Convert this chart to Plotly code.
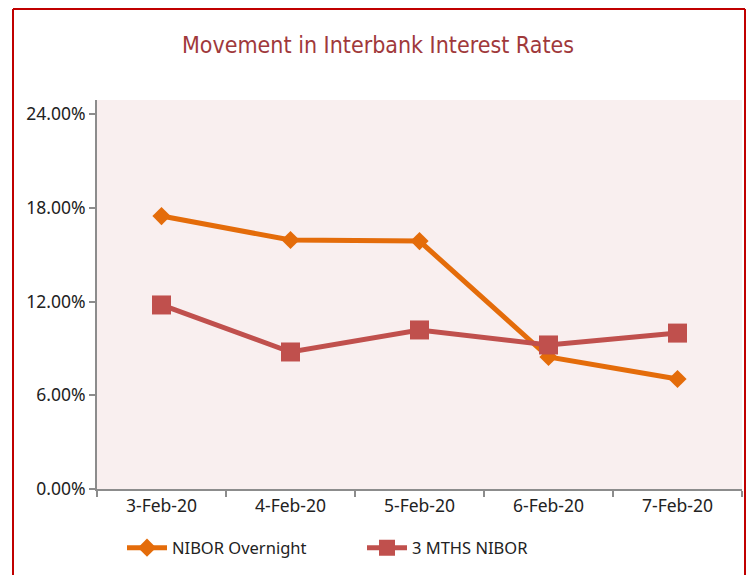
import plotly.graph_objects as go

dates = ["3-Feb-20", "4-Feb-20", "5-Feb-20", "6-Feb-20", "7-Feb-20"]
nibor_overnight = [0.1747, 0.1594, 0.1587, 0.0845, 0.0704]
nibor_3m = [0.1178, 0.0877, 0.1018, 0.0922, 0.0998]
y_ticks = [0, 0.06, 0.12, 0.18, 0.24]

fig = go.Figure()
fig.add_trace(go.Scatter(
    x=dates, y=nibor_overnight, name="NIBOR Overnight", mode="lines+markers",
    line=dict(color="#E46C0A", width=5),
    marker=dict(symbol="diamond", size=14, color="#E46C0A"),
))
fig.add_trace(go.Scatter(
    x=dates, y=nibor_3m, name="3 MTHS NIBOR", mode="lines+markers",
    line=dict(color="#C0504D", width=5),
    marker=dict(symbol="square", size=19, color="#C0504D"),
))

W, H = 749, 575
SL, SR, ST, SB = 97, 742, 100, 489
L, T, R, B = SL, ST, W - SR, H - SB
pw, ph = W - L - R, H - T - B

def px(x):
    return (x - L) / pw

def py(y):
    return (H - B - y) / ph

border = dict(color="#C00000", width=2)
fig.update_layout(
    width=W, height=H,
    margin=dict(l=L, r=R, t=T, b=B),
    paper_bgcolor="white",
    plot_bgcolor="#F9EFEF",
    font=dict(family="Noto Sans", size=16, color="#222222"),
    title=dict(text="Movement in Interbank Interest Rates", x=378 / W, xanchor="center",
               y=1 - 45 / H, yanchor="middle",
               font=dict(family="DejaVu Sans Condensed, Noto Sans", size=23, color="#A0393B")),
    xaxis=dict(
        range=[-0.5, 4.5],
        showgrid=False, showline=True, linecolor="#8C8C8C", linewidth=2,
        ticks="outside", tickson="boundaries", ticklen=6, tickcolor="#8C8C8C", tickwidth=2,
        tickfont=dict(size=17.5, color="#222222"), zeroline=False,
    ),
    yaxis=dict(
        range=[0, 0.249], tickvals=y_ticks, tickformat=".2%",
        showgrid=False, showline=True, linecolor="#8C8C8C", linewidth=2,
        ticks="outside", ticklen=6, tickcolor="#8C8C8C", tickwidth=2,
        tickfont=dict(size=17.5, color="#222222"), zeroline=False,
    ),
    showlegend=True,
    legend=dict(orientation="h", x=px(122), y=py(548), xanchor="left", yanchor="middle",
                font=dict(size=16.5, color="#222222"), bgcolor="rgba(0,0,0,0)",
                itemwidth=40, traceorder="normal", entrywidth=185),
    shapes=[
        dict(type="line", xref="paper", yref="paper", x0=px(13), x1=px(13), y0=py(580), y1=py(9),
             line=border, layer="above"),
        dict(type="line", xref="paper", yref="paper", x0=px(13), x1=px(745), y0=py(9), y1=py(9),
             line=border, layer="above"),
        dict(type="line", xref="paper", yref="paper", x0=px(745), x1=px(745), y0=py(580), y1=py(9),
             line=border, layer="above"),
    ],
)

fig.write_html("out.html", config={"displayModeBar": False},
               post_script="document.body.style.margin='0';document.body.style.overflow='hidden';")
